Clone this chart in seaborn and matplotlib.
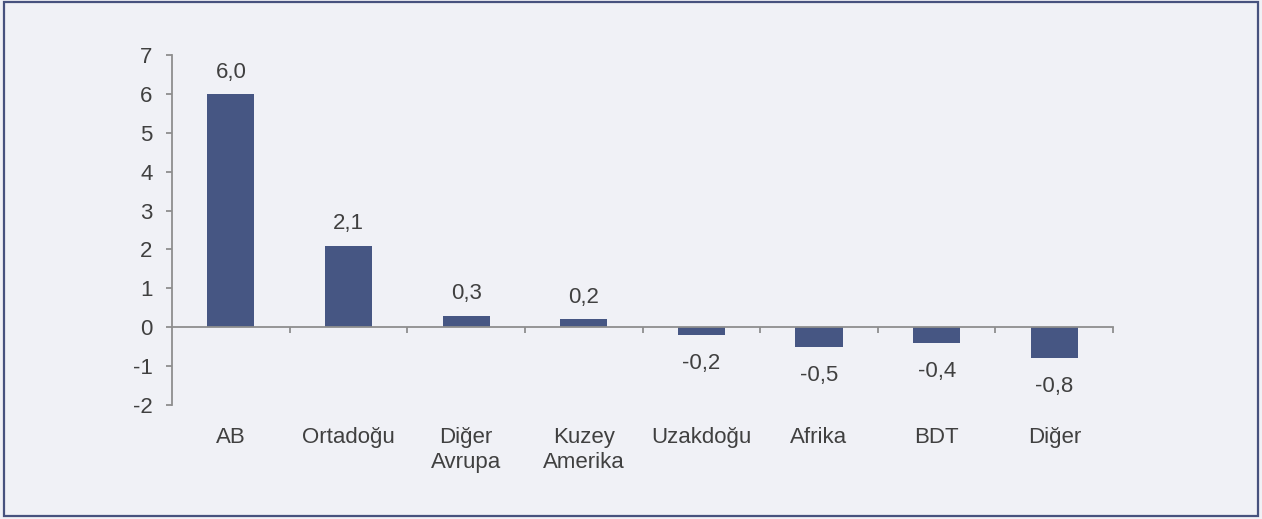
import matplotlib
matplotlib.use("Agg")
import matplotlib.pyplot as plt
import matplotlib.patches as mpatches
import seaborn as sns
import pandas as pd

categories = ["AB", "Ortadoğu", "Diğer\nAvrupa", "Kuzey\nAmerika", "Uzakdoğu", "Afrika", "BDT", "Diğer"]
values = [6.0, 2.1, 0.3, 0.2, -0.2, -0.5, -0.4, -0.8]
yticks = [-2, -1, 0, 1, 2, 3, 4, 5, 6, 7]

bg = "#f0f1f6"
bar_color = "#465683"
axis_color = "#8e8e8e"
text_color = "#404040"
fs = 16

sns.set_theme(style="white")
plt.rcParams["font.family"] = ["Liberation Sans", "DejaVu Sans"]

fig = plt.figure(figsize=(12.62, 5.19), dpi=100, facecolor=bg)
ax = fig.add_axes([0.1363, 0.2197, 0.882 - 0.1363, 0.894 - 0.2197])
ax.set_facecolor(bg)

df = pd.DataFrame({"cat": categories, "val": values})
sns.barplot(data=df, x="cat", y="val", color=bar_color, width=0.4, saturation=1,
            linewidth=0, edgecolor="none", ax=ax)

ax.set_ylim(-2, 7)
ax.set_xlim(-0.5, len(categories) - 0.5)
ax.set_yticks(yticks)
ax.set_yticklabels([str(t) for t in yticks], fontsize=fs, color=text_color)
ax.set_xlabel("")
ax.set_ylabel("")

for s in ["top", "right"]:
    ax.spines[s].set_visible(False)
ax.spines["bottom"].set_position(("data", 0))
ax.spines["bottom"].set_color(axis_color)
ax.spines["left"].set_color(axis_color)
ax.spines["bottom"].set_linewidth(1.3)
ax.spines["left"].set_linewidth(1.3)

ax.tick_params(axis="y", direction="out", length=4, width=1.3, color=axis_color, pad=10, left=True)
ax.set_xticks([i + 0.5 for i in range(len(categories))])
ax.set_xticklabels([])
ax.tick_params(axis="x", direction="out", length=4, width=1.3, color=axis_color, bottom=True)

for i, c in enumerate(categories):
    ax.text(i, -0.062, c, transform=ax.get_xaxis_transform(), ha="center", va="top",
            fontsize=fs, color=text_color, linespacing=1.3)

for i, v in enumerate(values):
    lab = f"{v:.1f}".replace(".", ",")
    if v >= 0:
        ax.annotate(lab, (i, v), xytext=(0, 8), textcoords="offset points", ha="center", va="bottom",
                    fontsize=fs, color=text_color)
    else:
        ax.annotate(lab, (i, v), xytext=(0, -13), textcoords="offset points", ha="center", va="top",
                    fontsize=fs, color=text_color)

border = mpatches.Rectangle((0.003, 0.005), 0.994, 0.992, transform=fig.transFigure, fill=False,
                            edgecolor="#47527e", linewidth=1.6)
fig.patches.append(border)

fig.savefig("out.png", dpi=100, facecolor=bg)
